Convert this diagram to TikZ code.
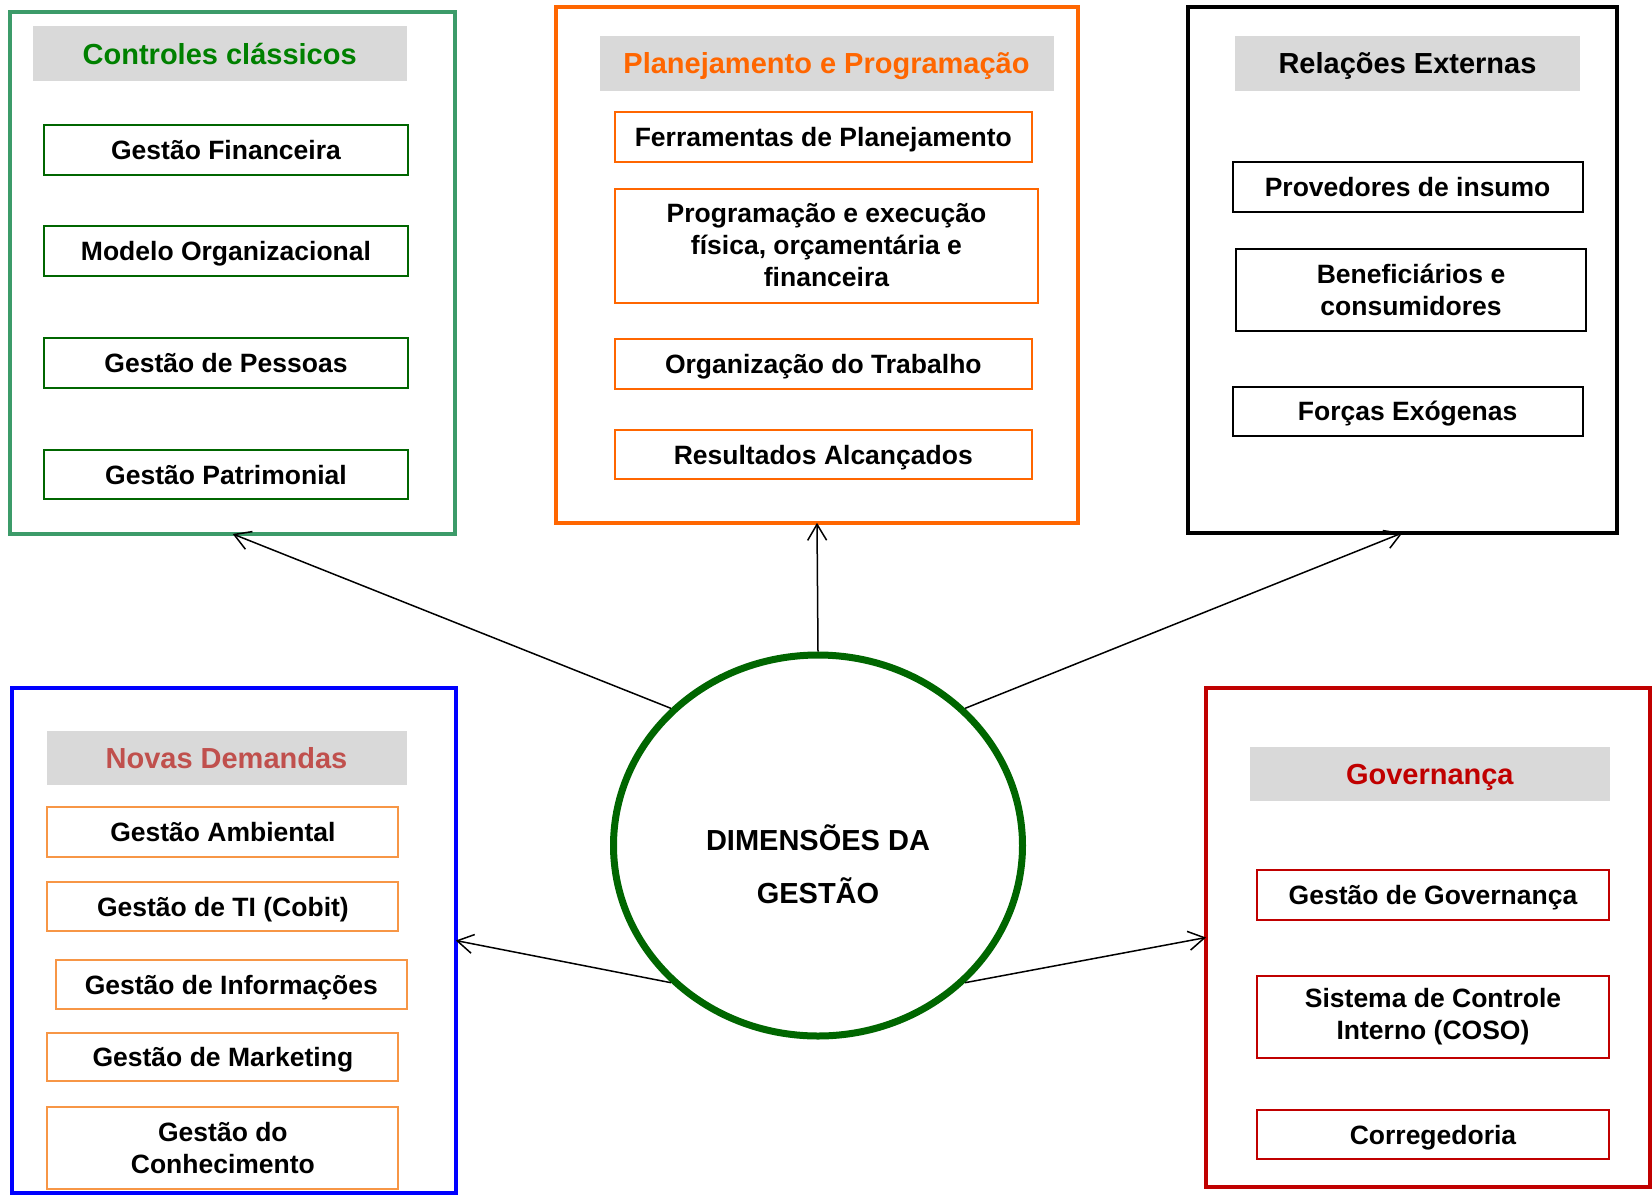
\documentclass[tikz,border=0pt]{standalone}
\usepackage{fontspec}
\setmainfont{Liberation Sans}
\usetikzlibrary{arrows.meta,shapes.geometric}
\definecolor{cgreenbox}{RGB}{60,155,105}
\definecolor{cgreentxt}{RGB}{0,128,0}
\definecolor{cdkgreen}{RGB}{0,102,0}
\definecolor{corange}{RGB}{255,102,0}
\definecolor{cblue}{RGB}{0,0,255}
\definecolor{cnovas}{RGB}{192,80,77}
\definecolor{clorange}{RGB}{247,150,70}
\definecolor{cred}{RGB}{192,0,0}
\definecolor{hgray}{RGB}{217,217,217}
\definecolor{ccirc}{RGB}{0,102,0}
\tikzset{
  outerbox/.style={draw=#1, line width=4pt, inner sep=0pt, outer sep=0pt},
  headbox/.style={fill=hgray, inner sep=0pt, text=#1,
    text height=20.8pt, text depth=0pt,
    font=\fontsize{29}{35}\selectfont\bfseries},
  itembox/.style={draw=#1, line width=2pt, inner sep=0pt, align=center,
    font=\fontsize{26.5}{32}\selectfont\bfseries},
  oneline/.style={text height=19pt, text depth=0pt},
  conn/.style={draw=black, line width=1.5pt,
    -{Straight Barb[length=16pt,width=19pt,line width=1.5pt]}},
}
\begin{document}
\begin{tikzpicture}[x=1pt,y=-1pt]
\useasboundingbox (0,0) rectangle (1652,1195);
\clip (0,0) rectangle (1652,1195);
% Controles classicos
\node[outerbox=cgreenbox, minimum width=444.6pt, minimum height=521.5pt] (gbox) at (232.7,273.2) {};
\node[headbox=cgreentxt, minimum width=374pt, minimum height=54.7pt] (ghead) at (219.7,53.6) {Controles clássicos};
\node[itembox=cdkgreen, oneline, minimum width=364pt, minimum height=50pt] (g1) at (226,150) {Gestão Financeira};
\node[itembox=cdkgreen, oneline, minimum width=364pt, minimum height=50pt] (g2) at (226,250.5) {Modelo Organizacional};
\node[itembox=cdkgreen, oneline, minimum width=364pt, minimum height=50pt] (g3) at (226,363) {Gestão de Pessoas};
\node[itembox=cdkgreen, oneline, minimum width=364pt, minimum height=49pt] (g4) at (226,474.5) {Gestão Patrimonial};
% Planejamento
\node[outerbox=corange, minimum width=522pt, minimum height=515.7pt] (obox) at (817,265) {};
\node[headbox=corange, minimum width=454pt, minimum height=55pt] (ohead) at (826.5,63.2) {Planejamento e Programação};
\node[itembox=corange, oneline, minimum width=416.5pt, minimum height=50.7pt] (o1) at (823.3,137) {Ferramentas de Planejamento};
\node[itembox=corange, minimum width=423pt, minimum height=114pt] (o2) at (826.5,245.5) {Programação e execução\\física, orçamentária e\\financeira};
\node[itembox=corange, oneline, minimum width=416.5pt, minimum height=50pt] (o3) at (823.3,364) {Organização do Trabalho};
\node[itembox=corange, oneline, minimum width=416.5pt, minimum height=49.6pt] (o4) at (823.3,454.6) {Resultados Alcançados};
% Relacoes Externas
\node[outerbox=black, minimum width=429pt, minimum height=525.7pt] (bbox) at (1402.5,270) {};
\node[headbox=black, minimum width=345pt, minimum height=55pt] (bhead) at (1407.5,63.2) {Relações Externas};
\node[itembox=black, oneline, minimum width=350pt, minimum height=50pt] (b1) at (1407.6,187) {Provedores de insumo};
\node[itembox=black, minimum width=350pt, minimum height=82.3pt] (b2) at (1411,289.8) {Beneficiários e\\consumidores};
\node[itembox=black, oneline, minimum width=350pt, minimum height=49.6pt] (b3) at (1407.6,411.4) {Forças Exógenas};
% Novas Demandas
\node[outerbox=cblue, minimum width=443.5pt, minimum height=505pt] (nbox) at (234,940.5) {};
\node[headbox=cnovas, minimum width=360pt, minimum height=54pt] (nhead) at (226.5,758) {Novas Demandas};
\node[itembox=clorange, oneline, minimum width=351pt, minimum height=49.6pt] (n1) at (222.9,831.8) {Gestão Ambiental};
\node[itembox=clorange, oneline, minimum width=351pt, minimum height=49.6pt] (n2) at (222.9,906.6) {Gestão de TI (Cobit)};
\node[itembox=clorange, oneline, minimum width=351pt, minimum height=49.6pt] (n3) at (231.3,984.6) {Gestão de Informações};
\node[itembox=clorange, oneline, minimum width=351pt, minimum height=48.5pt] (n4) at (222.9,1056.8) {Gestão de Marketing};
\node[itembox=clorange, minimum width=351pt, minimum height=81.5pt] (n5) at (222.9,1147.8) {Gestão do\\Conhecimento};
% Governanca
\node[outerbox=cred, minimum width=444pt, minimum height=499pt] (rbox) at (1428,937.5) {};
\node[headbox=cred, minimum width=360.5pt, minimum height=53.7pt] (rhead) at (1429.8,773.9) {Governança};
\node[itembox=cred, oneline, minimum width=352pt, minimum height=50pt] (r1) at (1433,895) {Gestão de Governança};
\node[itembox=cred, minimum width=352pt, minimum height=82.4pt] (r2) at (1433,1016.8) {Sistema de Controle\\Interno (COSO)};
\node[itembox=cred, oneline, minimum width=352pt, minimum height=48.6pt] (r3) at (1433,1134.7) {Corregedoria};
% Centre
\node[ellipse, draw=ccirc, line width=7pt, minimum width=409pt, minimum height=381pt, inner sep=0pt] (circ) at (818,845.5) {};
\node[align=center, font=\fontsize{29}{53}\selectfont\bfseries] (ctext) at (818,864) {DIMENSÕES DA\\GESTÃO};
% Connectors
\draw[conn] (circ.north west) -- (gbox.south);
\draw[conn] (circ.north) -- (obox.south);
\draw[conn] (circ.north east) -- (bbox.south);
\draw[conn] (circ.south west) -- (nbox.east);
\draw[conn] (circ.south east) -- (rbox.west);
\end{tikzpicture}
\end{document}
